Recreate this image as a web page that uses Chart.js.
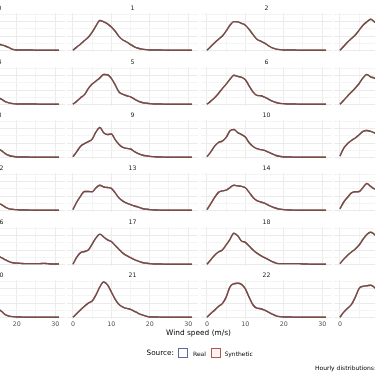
<!DOCTYPE html>
<html>
<head>
<meta charset="utf-8">
<script src="https://cdn.jsdelivr.net/npm/chart.js@4.4.0/dist/chart.umd.min.js"></script>
<style>
  html, body { margin: 0; padding: 0; background: #fff; }
  #wrap { position: relative; width: 375px; height: 375px; overflow: hidden; font-family: "DejaVu Sans", sans-serif; }
  #wrap canvas { position: absolute; }
  .txt { position: absolute; white-space: nowrap; line-height: 1; color: #000; }
  .key { position: absolute; width: 8px; height: 8px; border: 1px solid; }
</style>
</head>
<body>
<div id="wrap"></div>
<script>
// wind speed grid (m/s), same for every hour
const windSpeed = [0,1,2,3,4,5,6,7,8,9,10,11,12,13,14,15,16,17,18,19,20,21,22,23,24,25,26,27,28,29,30,31];
const xTicks = [0,5,10,15,20,25,30];
const yTicks = [0,0.025,0.05,0.075,0.1,0.125];

// hourly densities (real and synthetic overlap at this size)
const hour0  = [0,.013,.025,.036,.048,.068,.089,.104,.100,.091,.080,.064,.046,.034,.029,.023,.019,.015,.009,.003,.001,.001,.001,.001,.001,0,0,0,0,0,0,0];
const hour1  = [0,.011,.022,.034,.046,.064,.086,.105,.100,.093,.082,.067,.048,.036,.029,.020,.012,.007,.004,.002,.001,.001,.001,.001,0,0,0,0,0,0,0,0];
const hour2  = [0,.013,.026,.039,.050,.068,.088,.101,.100,.095,.088,.073,.055,.039,.032,.025,.016,.008,.004,.002,.001,.001,.001,.001,0,0,0,0,0,0,0,0];
const hour3  = [0,.014,.029,.041,.054,.071,.088,.100,.109,.100,.089,.071,.050,.036,.029,.021,.014,.009,.004,.002,.001,.001,.001,0,0,0,0,0,0,0,0,0];
const hour4  = [0,.011,.023,.034,.054,.071,.082,.093,.105,.104,.091,.068,.043,.034,.029,.023,.018,.009,.005,.002,.001,.001,.001,.001,.001,.001,0,0,0,0,0,0];
const hour5  = [0,.011,.023,.034,.055,.071,.082,.093,.105,.104,.091,.068,.043,.035,.030,.026,.018,.011,.006,.004,.002,.001,.001,.001,0,0,0,0,0,0,0,0];
const hour6  = [0,.011,.023,.038,.055,.071,.088,.102,.098,.095,.086,.064,.043,.031,.030,.025,.018,.011,.006,.003,.002,.001,.001,.001,0,0,0,0,0,0,0,0];
const hour7  = [0,.014,.029,.043,.057,.073,.093,.105,.096,.092,.082,.061,.043,.034,.029,.023,.016,.010,.005,.002,.001,.001,.001,0,0,0,0,0,0,0,0,0];
const hour8  = [0,.018,.036,.046,.055,.066,.089,.104,.089,.082,.079,.061,.045,.036,.032,.029,.023,.013,.006,.003,.001,.001,.001,.001,0,0,0,0,0,0,0,0];
const hour9  = [.002,.020,.039,.048,.055,.064,.089,.105,.086,.080,.082,.062,.045,.035,.031,.029,.020,.013,.008,.005,.003,.002,.001,.001,0,0,0,0,0,0,0,0];
const hour10 = [.002,.019,.039,.052,.057,.070,.093,.098,.087,.080,.071,.051,.038,.030,.027,.024,.018,.012,.006,.003,.001,.001,.001,0,0,0,0,0,0,0,0,0];
const hour11 = [.004,.032,.048,.059,.068,.079,.091,.094,.091,.086,.075,.054,.039,.032,.027,.023,.016,.011,.006,.004,.002,.001,.001,0,0,0,0,0,0,0,0,0];
const hour12 = [.002,.029,.050,.064,.066,.066,.079,.088,.082,.079,.075,.059,.043,.032,.027,.025,.020,.011,.005,.003,.002,.001,.001,.001,0,0,0,0,0,0,0,0];
const hour13 = [.002,.029,.050,.066,.066,.065,.079,.088,.082,.080,.077,.061,.043,.032,.025,.020,.015,.011,.006,.004,.002,.001,.001,0,0,0,0,0,0,0,0,0];
const hour14 = [.002,.023,.045,.063,.068,.071,.080,.088,.086,.084,.079,.063,.045,.034,.029,.025,.018,.012,.007,.004,.002,.001,.001,0,0,0,0,0,0,0,0,0];
const hour15 = [.005,.029,.046,.061,.065,.066,.080,.094,.084,.075,.071,.057,.041,.032,.025,.020,.014,.010,.006,.004,.002,.001,.001,0,0,0,0,0,0,0,0,0];
const hour16 = [0,.021,.039,.045,.052,.071,.093,.104,.096,.086,.079,.064,.050,.039,.032,.029,.023,.016,.009,.005,.004,.003,.002,.002,.002,.002,.002,.003,.002,.001,.001,.001];
const hour17 = [0,.025,.041,.045,.050,.071,.093,.106,.096,.086,.080,.066,.052,.039,.030,.023,.016,.011,.006,.004,.002,.001,.001,.001,0,0,0,0,0,0,0,0];
const hour18 = [0,.016,.032,.043,.050,.068,.088,.109,.100,.082,.077,.064,.050,.039,.030,.023,.016,.009,.004,.002,.002,.002,.002,.002,.002,.001,.001,0,0,0,0,0];
const hour19 = [.002,.018,.032,.043,.054,.068,.088,.105,.113,.105,.089,.064,.046,.036,.030,.025,.018,.011,.005,.003,.001,.001,.001,0,0,0,0,0,0,0,0,0];
const hour20 = [0,.013,.027,.039,.050,.061,.082,.107,.118,.107,.086,.061,.043,.036,.032,.030,.021,.009,.004,.002,.001,.001,0,0,0,0,0,0,0,0,0,0];
const hour21 = [0,.013,.026,.039,.050,.057,.079,.107,.124,.114,.089,.063,.045,.036,.031,.028,.021,.014,.008,.004,.001,.001,.001,0,0,0,0,0,0,0,0,0];
const hour22 = [0,.013,.025,.038,.048,.071,.107,.118,.120,.116,.100,.070,.043,.032,.030,.025,.018,.011,.005,.002,.001,.001,.001,0,0,0,0,0,0,0,0,0];
const hour23 = [0,.018,.032,.045,.071,.102,.109,.111,.113,.105,.089,.064,.043,.032,.029,.023,.016,.011,.005,.003,.001,.001,.001,0,0,0,0,0,0,0,0,0];

const series = [hour0,hour1,hour2,hour3,hour4,hour5,hour6,hour7,hour8,hour9,hour10,hour11,
                hour12,hour13,hour14,hour15,hour16,hour17,hour18,hour19,hour20,hour21,hour22,hour23];

const realColor = '#5a6a9e';
const synthColor = 'rgba(132,70,48,0.9)';
const font = 'DejaVu Sans';

// layout of the facet grid (only part of it is in view)
const colZero = [-60.5, 73, 206.5, 340];
const pxPerUnit = 3.84;
const panelW = 131, panelH = 39, stripH = 9, axisH = 11;
const nRows = 6;

const wrap = document.getElementById('wrap');

function gridColor(major) {
  return function (c) {
    if (!c.tick) return 'rgba(0,0,0,0)';
    return major(c.tick.value) ? '#ebebeb' : '#f4f4f4';
  };
}

function makePanel(h) {
  const col = h % 4, row = Math.floor(h / 4);
  const bottom = row === nRows - 1;
  const canvas = document.createElement('canvas');
  const ch = stripH + panelH + (bottom ? axisH : 0);
  canvas.width = panelW;
  canvas.height = ch;
  canvas.style.left = Math.round(colZero[col] - 1.55 * pxPerUnit) + 'px';
  canvas.style.top = Math.floor(13.75 + row * 53.4 - stripH) + 'px';
  wrap.appendChild(canvas);

  const pts = series[h].map((y, i) => ({ x: windSpeed[i], y: y }));

  new Chart(canvas, {
    type: 'line',
    data: {
      datasets: [
        { label: 'Real', order: 2, data: pts, borderColor: realColor, borderWidth: 1.4, pointRadius: 0, cubicInterpolationMode: 'monotone', fill: false },
        { label: 'Synthetic', order: 1, data: pts, borderColor: synthColor, borderWidth: 1.4, pointRadius: 0, cubicInterpolationMode: 'monotone', fill: false }
      ]
    },
    options: {
      responsive: false,
      animation: false,
      events: [],
      layout: { padding: 0 },
      plugins: {
        legend: { display: false },
        tooltip: { enabled: false },
        title: {
          display: true,
          text: String(h),
          color: '#1a1a1a',
          font: { family: font, size: 6.2, weight: 'normal', lineHeight: '7px' },
          padding: { top: 1, bottom: 1 }
        }
      },
      scales: {
        x: {
          type: 'linear',
          min: -1.55,
          max: 32.55,
          border: { display: false },
          grid: { drawTicks: false, lineWidth: 1, color: gridColor(v => v % 10 === 0) },
          afterBuildTicks: s => { s.ticks = xTicks.map(v => ({ value: v })); },
          ticks: {
            display: bottom,
            autoSkip: false,
            maxRotation: 0,
            padding: 2,
            color: '#4d4d4d',
            font: { family: font, size: 6.3, lineHeight: '7px' },
            callback: v => (v % 10 === 0 ? v : '')
          }
        },
        y: {
          min: -0.00625,
          max: 0.13125,
          border: { display: false },
          grid: { drawTicks: false, lineWidth: 1, color: gridColor(v => Math.abs(v % 0.05) < 1e-6 || Math.abs(v % 0.05 - 0.05) < 1e-6) },
          afterBuildTicks: s => { s.ticks = yTicks.map(v => ({ value: v })); },
          ticks: { display: false }
        }
      }
    }
  });
}

for (let h = 0; h < series.length; h++) makePanel(h);

// axis title, legend and caption
function addText(text, x, y, size, centre) {
  const d = document.createElement('div');
  d.className = 'txt';
  d.textContent = text;
  d.style.left = x + 'px';
  d.style.top = y + 'px';
  d.style.fontSize = size + 'px';
  d.style.transform = centre ? 'translate(-50%,-50%)' : 'translateY(-50%)';
  wrap.appendChild(d);
}
function addKey(x, y, color, fill) {
  const k = document.createElement('div');
  k.className = 'key';
  k.style.left = x + 'px';
  k.style.top = y + 'px';
  k.style.borderColor = color;
  k.style.background = fill;
  wrap.appendChild(k);
}

addText('Wind speed (m/s)', 198.5, 333, 7.4, true);
addText('Source:', 146.5, 353, 7.3, false);
addKey(178, 348, '#5a6a9e', '#ffffff');
addText('Real', 193, 353.5, 6, false);
addKey(210.5, 348, '#b0584c', '#fdf3f2');
addText('Synthetic', 224.5, 353.5, 6, false);
addText('Hourly distributions:', 315, 368, 6, false);
</script>
</body>
</html>
